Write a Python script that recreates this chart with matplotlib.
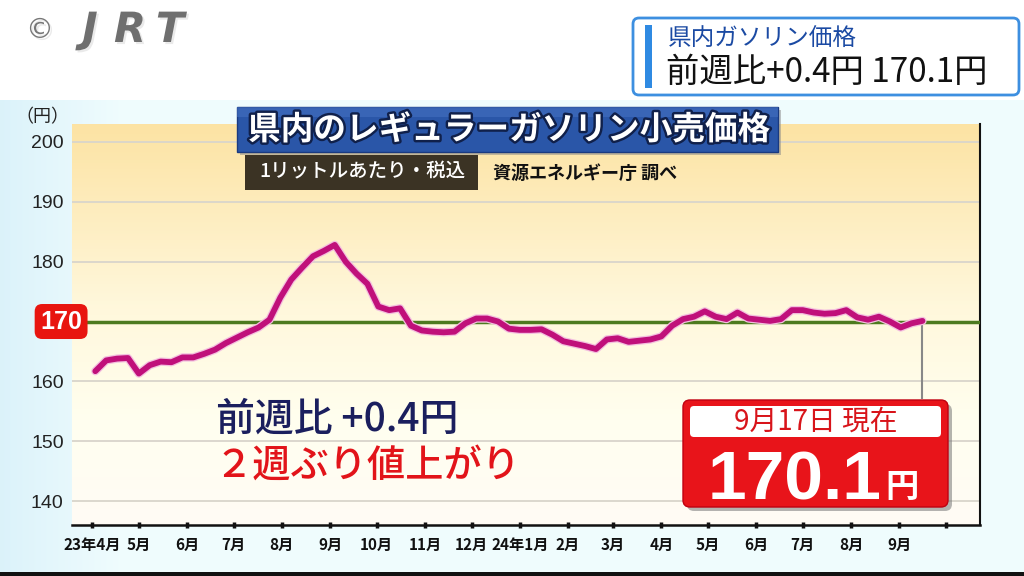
import matplotlib.pyplot as plt
import matplotlib.patches as mpatches
import matplotlib.patheffects as pe
import matplotlib.transforms as mtransforms
import numpy as np
import pandas as pd

plt.rcParams['font.family'] = ['Noto Sans CJK JP', 'DejaVu Sans']

# weekly survey (Mondays), 2023-04-03 .. 2024-09-16
weeks = pd.date_range('2023-04-03', periods=77, freq='7D')
price = [
    161.7, 163.5, 163.8, 163.9, 161.3, 162.7, 163.3, 163.2, 164.0, 164.0,
    164.6, 165.3, 166.4, 167.3, 168.2, 169.0, 170.3, 174.0, 177.0, 179.0,
    180.9, 181.8, 182.8, 180.0, 178.0, 176.3, 172.5, 171.9, 172.2, 169.3,
    168.5, 168.3, 168.2, 168.3, 169.7, 170.5, 170.5, 170.0, 168.8, 168.6,
    168.6, 168.7, 167.8, 166.7, 166.3, 165.9, 165.4, 167.0, 167.2, 166.6,
    166.8, 167.0, 167.5, 169.3, 170.4, 170.8, 171.7, 170.8, 170.4, 171.5,
    170.5, 170.3, 170.1, 170.4, 171.9, 171.9, 171.5, 171.3, 171.4, 171.9,
    170.7, 170.3, 170.8, 170.0, 169.0, 169.7, 170.1,
]
month_ticks = pd.date_range('2023-04-01', '2024-10-01', freq='MS')
month_labels = ['23年4月', '5月', '6月', '7月', '8月', '9月', '10月', '11月', '12月',
                '24年1月', '2月', '3月', '4月', '5月', '6月', '7月', '8月', '9月', '']
y_ticks = [140, 150, 160, 170, 180, 190, 200]
ref_level = 170

latest_label = '9月17日 現在'
latest_price = 170.1
weekly_change = 0.4

W, H = 1024, 576
fig = plt.figure(figsize=(W / 100, H / 100), dpi=100)

# figure background: pale cyan, white header strip
bg = fig.add_axes([0, 0, 1, 1], zorder=0)
bg.axis('off')
xx = np.linspace(0, 1, W)[None, :]
yy = np.linspace(0, 1, H)[:, None]
c_left = np.array([0.86, 0.95, 0.98])
c_base = np.array([0.94, 0.99, 0.995])
mix = np.clip(xx / 0.12, 0, 1)[..., None]
img = c_left * (1 - mix) + c_base * mix
img = np.broadcast_to(img, (H, W, 3)).copy()
img[yy[:, 0] < 100 / H] = 1.0
bg.imshow(img, extent=[0, 1, 0, 1], aspect='auto')

pos = [72 / W, 1 - 525 / H, (980 - 72) / W, (525 - 124) / H]

# plot area gradient
pbg = fig.add_axes(pos, zorder=1)
pbg.axis('off')
stops = np.array([0.0, 0.25, 0.55, 1.0])
cols = np.array([[1.0, 0.985, 0.96], [1.0, 1.0, 0.94], [1.0, 0.97, 0.86], [0.99, 0.89, 0.64]])
g = np.linspace(0, 1, 256)
grad = np.stack([np.interp(g, stops, cols[:, i]) for i in range(3)], axis=-1)[::-1]
pbg.imshow(grad[:, None, :], extent=[0, 1, 0, 1], aspect='auto')

ax = fig.add_axes(pos, zorder=2)
ax.patch.set_alpha(0)
ax.set_ylim(136, 203)
ax.set_xlim(pd.Timestamp('2023-03-19'), pd.Timestamp('2024-10-23'))

ax.set_yticks(y_ticks)
ax.set_yticklabels([str(v) if v != ref_level else '' for v in y_ticks],
                   fontsize=14, color='#222222', family=['Liberation Sans', 'DejaVu Sans'])
ax.tick_params(axis='y', length=0, pad=6)
ax.grid(axis='y', color='#d9d5cb', lw=1.3)
ax.set_axisbelow(True)

ax.set_xticks(month_ticks)
ax.set_xticklabels(month_labels, fontsize=11, fontweight='bold', color='#111111')
ax.tick_params(axis='x', length=5, width=2.5, direction='inout', color='#111111', pad=6)

for s in ['left', 'top']:
    ax.spines[s].set_visible(False)
ax.spines['bottom'].set_linewidth(1.8)
ax.spines['bottom'].set_color('#111111')
ax.spines['right'].set_linewidth(1.5)
ax.spines['right'].set_color('#111111')

ax.axhline(ref_level, color='#4d7a1f', lw=2.5, zorder=3)
ax.text(-0.012, ref_level, str(ref_level),
        transform=mtransforms.blended_transform_factory(ax.transAxes, ax.transData),
        ha='center', va='center', fontsize=18, fontweight='bold', color='white',
        family=['Liberation Sans', 'DejaVu Sans'], clip_on=False, zorder=6,
        bbox=dict(boxstyle='round,pad=0.22,rounding_size=0.3', fc='#e8150f', ec='none'))

ax.vlines(weeks[-1], 157.0, price[-1], color='#888888', lw=1.5, zorder=3)
ax.plot(weeks, price, color='#c0107a', lw=4.2, solid_joinstyle='round', solid_capstyle='round', zorder=5,
        path_effects=[pe.Stroke(linewidth=6.0, foreground='#f3c0df'), pe.Normal()])

# overlay in pixel coordinates for the boxes and captions
ov = fig.add_axes([0, 0, 1, 1], zorder=5)
ov.set_xlim(0, W)
ov.set_ylim(H, 0)
ov.axis('off')

# logo
shadow = [pe.withSimplePatchShadow(offset=(1.5, -1.5), shadow_rgbFace='#bbbbbb')]
ov.text(40, 30, '©', fontsize=20, color='#777777', ha='center', va='center', family='DejaVu Sans',
        path_effects=shadow)
for i, ch in enumerate('JRT'):
    ov.text(90 + i * 40, 30, ch, fontsize=30, color='#6f6f6f', ha='center', va='center',
            family='DejaVu Sans', fontstyle='italic', fontweight='bold', path_effects=shadow)

# header box top right
ov.add_patch(mpatches.FancyBboxPatch((633, 18), 386, 77, boxstyle='round,pad=0,rounding_size=6',
                                     fc='white', ec='#3d8fe0', lw=2))
ov.add_patch(mpatches.Rectangle((645, 25), 7, 63, fc='#2f8ae2', ec='none'))
ov.text(668, 39, '県内ガソリン価格', fontsize=17, color='#1b4aa3', ha='left', va='center')
ov.text(666, 72, f'前週比+{weekly_change}円 {latest_price}円', fontsize=24, color='#111111',
        ha='left', va='center')

# title
ov.add_patch(mpatches.Rectangle((240, 110), 541, 45, fc='#888888', ec='none', alpha=0.5))
ov.add_patch(mpatches.Rectangle((237, 107), 541, 45, fc='#2a56a8', ec='#1a3a80', lw=1))
ov.add_patch(mpatches.Rectangle((237, 107), 541, 10, fc='#4470c0', ec='none', alpha=0.6))
ov.text(509, 130, '県内のレギュラーガソリン小売価格', fontsize=23.5, fontweight='bold', color='white',
        ha='center', va='center',
        path_effects=[pe.Stroke(linewidth=3.5, foreground='#10204a'), pe.Normal()])
ov.add_patch(mpatches.Rectangle((245, 155), 233, 35, fc='#3b3324', ec='none'))
ov.text(362, 172, '1リットルあたり・税込', fontsize=14, fontweight='medium', color='white',
        ha='center', va='center')
ov.text(493, 173, '資源エネルギー庁 調べ', fontsize=13, fontweight='bold', color='#111111',
        ha='left', va='center')

# captions
ov.text(216, 420, f'前週比 +{weekly_change}円', fontsize=28, fontweight='medium', color='#1b1f5e',
        ha='left', va='center')
ov.text(214, 466, '２週ぶり値上がり', fontsize=27.5, fontweight='medium', color='#e2141a',
        ha='left', va='center')

# latest price box
ov.add_patch(mpatches.FancyBboxPatch((687, 404), 265, 107, boxstyle='round,pad=0,rounding_size=7',
                                     fc='#777777', ec='none', alpha=0.55))
ov.add_patch(mpatches.FancyBboxPatch((683, 400), 265, 107, boxstyle='round,pad=0,rounding_size=7',
                                     fc='#e8141a', ec='#c00010', lw=1))
ov.add_patch(mpatches.FancyBboxPatch((690, 406), 251, 31, boxstyle='round,pad=0,rounding_size=4',
                                     fc='white', ec='none'))
ov.text(816, 422, latest_label, fontsize=20, color='#d8141a', ha='center', va='center')
ov.text(882, 499, f'{latest_price}', fontsize=50, fontweight='bold', color='white', ha='right',
        va='baseline', family=['Liberation Sans', 'DejaVu Sans'])
ov.text(885, 497, '円', fontsize=24, fontweight='bold', color='white', ha='left', va='baseline')

# bottom rule
ov.add_patch(mpatches.Rectangle((0, 572), W, 4, fc='#111111', ec='none'))

fig.text(42 / W, 1 - 117 / H, '（円）', fontsize=13, color='#222222', ha='center', va='center')

fig.savefig('out.png', dpi=100)
